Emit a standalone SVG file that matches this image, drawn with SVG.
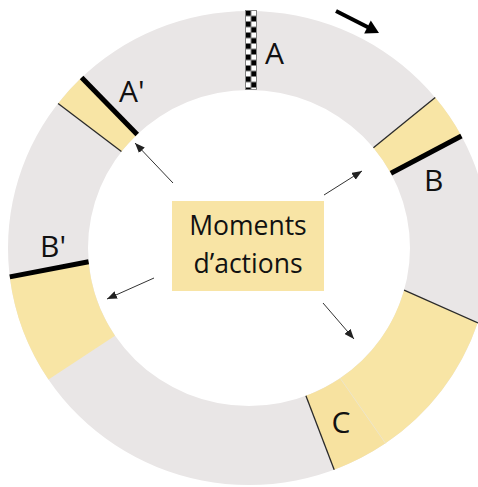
<svg xmlns="http://www.w3.org/2000/svg" width="478" height="487" viewBox="0 0 478 487">
  <defs>
    <pattern id="checker" patternUnits="userSpaceOnUse" x="245.5" y="10.5" width="11" height="11">
      <rect width="11" height="11" fill="#ffffff"/>
      <rect x="0" y="0" width="5.5" height="5.5" fill="#000000"/>
      <rect x="5.5" y="5.5" width="5.5" height="5.5" fill="#000000"/>
    </pattern>
    <marker id="ah" viewBox="0 0 10 8" refX="10" refY="4" markerWidth="10" markerHeight="8" markerUnits="userSpaceOnUse" orient="auto">
      <path d="M0,0 L10,4 L0,8 z" fill="#222222"/>
    </marker>
    <style>
      .ring { fill: #E9E6E6; fill-rule: evenodd; }
      .yel { fill: #F8E5A5; }
      .yelC { fill: #F7E2A0; }
      .thin { stroke: #2a2a2a; stroke-width: 1.3; fill: none; }
      .thick { stroke: #000000; stroke-width: 5; fill: none; }
      .lbl { font-family: "Open Sans", "Liberation Sans", sans-serif; font-size: 30px; fill: #111111; }
      .box { fill: #F8E4A5; }
      .btxt { font-family: "Open Sans", "Liberation Sans", sans-serif; font-size: 26.5px; fill: #111111; text-anchor: middle; }
      .conn { stroke: #333333; stroke-width: 1; fill: none; marker-end: url(#ah); }
    </style>
  </defs>

  <g id="ring">
    <path class="ring" d="M8,248 A241,237 0 1 1 490,248 A241,237 0 1 1 8,248 Z M88,248 A161,158 0 1 0 410,248 A161,158 0 1 0 88,248 Z"/>
  </g>

  <g id="segment-A">
    <rect x="245.5" y="10.5" width="11" height="79" fill="url(#checker)" stroke="#777777" stroke-width="0.8"/>
    <text class="lbl" x="265" y="64">A</text>
  </g>

  <g id="segment-A-prime">
    <path class="yel" d="M58.1,103.4 A241,237 0 0 1 81.6,77.5 L137.2,134.4 A161,158 0 0 0 121.4,151.6 Z"/>
    <line class="thin" x1="58.1" y1="103.4" x2="121.4" y2="151.6"/>
    <line class="thick" x1="81.6" y1="77.5" x2="137.2" y2="134.4"/>
    <text class="lbl" x="119" y="102">A'</text>
  </g>

  <g id="segment-B">
    <path class="yel" d="M435.2,97.6 A241,237 0 0 1 461.4,136 L390.9,173.3 A161,158 0 0 0 373.4,147.7 Z"/>
    <line class="thin" x1="435.2" y1="97.6" x2="373.4" y2="147.7"/>
    <line class="thick" x1="461.4" y1="136" x2="390.9" y2="173.3"/>
    <text class="lbl" x="424" y="191">B</text>
  </g>

  <g id="segment-B-prime">
    <path class="yel" d="M48.5,379.5 A241,237 0 0 1 9.8,276.9 L88.6,261.8 A161,158 0 0 0 115,335.7 Z"/>
    <line class="thick" x1="9.8" y1="276.9" x2="88.6" y2="261.8"/>
    <text class="lbl" x="40" y="257">B'</text>
  </g>

  <g id="segment-large">
    <path class="yel" d="M404.1,290.2 L477.7,322.8 A241,237 0 0 1 385.5,443.3 L340.2,378.2 A161,158 0 0 0 404.1,290.2 Z"/>
    <line class="thin" x1="404.1" y1="290.2" x2="478" y2="323"/>
  </g>

  <g id="segment-C">
    <path class="yelC" d="M385.5,443.3 A241,237 0 0 1 334.2,469.7 L305.9,395.8 A161,158 0 0 0 340.2,378.2 Z"/>
    <line x1="340.2" y1="378.2" x2="385.5" y2="443.3" stroke="#EFE6C6" stroke-width="1"/>
    <line class="thin" x1="305.9" y1="395.8" x2="334.2" y2="469.7"/>
    <text class="lbl" x="331.5" y="433">C</text>
  </g>

  <g id="direction-arrow">
    <line x1="336" y1="11" x2="368" y2="27.3" stroke="#000000" stroke-width="4"/>
    <polygon points="379,33 364.2,33.5 370.8,20.6" fill="#000000"/>
  </g>

  <g id="moments-box">
    <rect class="box" x="172" y="201" width="152" height="90"/>
    <text class="btxt" x="248" y="235">Moments</text>
    <text class="btxt" x="248" y="273">d’actions</text>
  </g>

  <g id="connectors">
    <line class="conn" x1="173" y1="183" x2="135" y2="143"/>
    <line class="conn" x1="324" y1="195" x2="362" y2="171"/>
    <line class="conn" x1="154" y1="278" x2="107" y2="299"/>
    <line class="conn" x1="323" y1="303" x2="354" y2="339"/>
  </g>
</svg>
